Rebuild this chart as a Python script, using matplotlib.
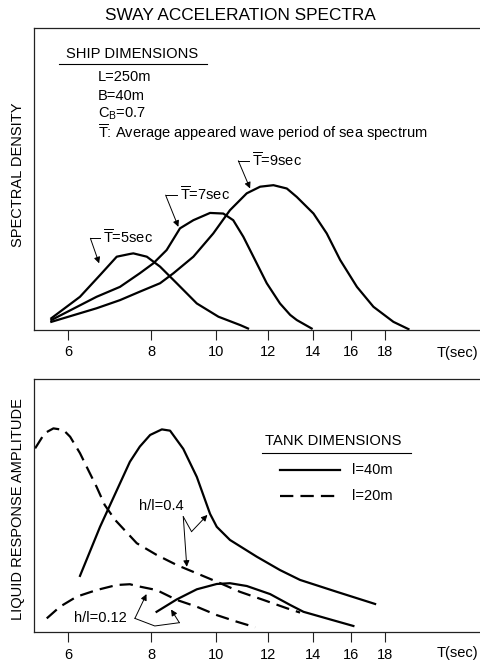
import matplotlib
matplotlib.use("Agg")
import matplotlib.pyplot as plt

plt.rcParams['font.family'] = ['Liberation Sans', 'DejaVu Sans']
plt.rcParams['mathtext.fontset'] = 'custom'
plt.rcParams['mathtext.rm'] = 'Liberation Sans'
plt.rcParams['mathtext.it'] = 'Liberation Sans'

# --- top panel: sway acceleration spectra (T in sec, arbitrary density) ---
t5_T = [5.66, 6.25, 6.70, 7.10, 7.43, 7.52, 7.88, 8.25, 8.74, 9.37, 10.10, 10.90, 11.19]
t5_y = [3.9, 11.0, 18.2, 24.3, 25.2, 25.4, 24.3, 21.0, 15.5, 8.8, 4.4, 1.6, 0.5]

t7_T = [5.66, 6.62, 7.18, 7.69, 8.06, 8.44, 8.84, 9.26, 9.81, 10.27, 10.63, 11.01,
        11.40, 11.94, 12.50, 12.95, 13.25, 13.95]
t7_y = [3.3, 11.0, 14.3, 18.8, 22.1, 26.5, 33.7, 36.4, 38.8, 38.6, 36.4, 30.9,
        24.3, 15.5, 8.8, 5.0, 3.3, 0.5]

t9_T = [5.66, 6.62, 7.18, 7.69, 8.25, 8.64, 9.26, 9.92, 10.51, 11.14, 11.67, 12.22,
        12.80, 13.25, 14.04, 14.70, 15.40, 16.32, 17.28, 18.52, 19.51]
t9_y = [2.7, 7.2, 9.9, 12.7, 15.5, 18.8, 24.3, 32.0, 39.7, 45.3, 47.5, 48.0,
        46.9, 44.1, 38.6, 32.0, 23.2, 14.3, 7.7, 2.7, 0.3]

# --- bottom panel: liquid response amplitude ---
l40_h04_T = [6.25, 6.70, 7.18, 7.43, 7.69, 7.97, 8.30, 8.54, 8.94, 9.37, 9.81, 10.04,
             10.51, 11.53, 12.50, 13.40, 15.22, 17.38]
l40_h04_y = [22.3, 41.7, 58.9, 67.4, 73.4, 78.0, 80.2, 79.7, 72.5, 61.4, 46.8, 41.7,
             36.5, 29.9, 24.6, 20.7, 16.0, 11.2]

l20_h04_T = [5.35, 5.53, 5.70, 5.90, 6.04, 6.25, 6.43, 6.62, 6.81, 7.06, 7.61, 8.15,
             8.74, 9.37, 10.04, 10.88, 11.80, 12.80, 13.40]
l20_h04_y = [72.7, 78.7, 80.6, 80.0, 77.3, 70.8, 64.2, 57.5, 50.3, 44.4, 35.2, 30.6,
             26.6, 23.3, 20.0, 16.0, 12.8, 9.5, 7.8]

l40_h012_T = [8.15, 8.74, 9.37, 10.04, 10.51, 11.14, 12.08, 12.95, 13.56, 14.87, 16.12]
l40_h012_y = [8.1, 13.0, 17.0, 19.1, 19.4, 18.3, 15.1, 10.8, 8.1, 5.1, 2.5]

l20_h012_T = [5.57, 5.83, 6.18, 6.62, 7.10, 7.43, 7.61, 8.15, 8.74, 9.37, 10.04, 10.76, 11.47]
l20_h012_y = [5.5, 10.1, 14.1, 16.7, 18.7, 19.0, 18.3, 16.7, 12.8, 10.1, 6.8, 4.2, 2.0]

tick_T = [6, 8, 10, 12, 14, 16, 18]

W, H = 480, 664
fig = plt.figure(figsize=(W / 100, H / 100), dpi=100)


def fx(px):
    return px / W


def fy(py):
    return 1 - py / H


def setup_axis(ax, left_T):
    ax.set_xscale('log')
    ax.set_xlim(left_T, 25.0)
    ax.set_ylim(0, 100)
    ax.minorticks_off()
    ax.set_xticks(tick_T)
    ax.set_xticklabels([str(t) for t in tick_T], fontsize=10.5)
    ax.set_yticks([])
    ax.tick_params(axis='x', direction='out', length=7, width=0.8, pad=4, color='#222')
    ax.spines['right'].set_visible(False)
    for s in ['left', 'top', 'bottom']:
        ax.spines[s].set_linewidth(0.9)
        ax.spines[s].set_color('#222')


lw = 1.6
dash = (6.0, 3.2)
arrow = dict(arrowstyle='-|>', color='black', lw=0.7, mutation_scale=9, shrinkA=0, shrinkB=0)
curve = dict(color='black', lw=lw, solid_joinstyle='round', dash_joinstyle='round')

# ---------------- top panel ----------------
ax1 = fig.add_axes([fx(34), fy(330), fx(480 - 34), (330 - 28.3) / H])
setup_axis(ax1, 5.33)
ax1.plot(t5_T, t5_y, **curve)
ax1.plot(t7_T, t7_y, **curve)
ax1.plot(t9_T, t9_y, **curve)

for txt, tx, elbow, tip, ty in [
        (r'$\overline{\mathrm{T}}$=5sec', 6.77, (6.48, 30.4), (6.68, 22.1), 30.5),
        (r'$\overline{\mathrm{T}}$=7sec', 8.84, (8.41, 44.7), (8.79, 34.2), 44.9),
        (r'$\overline{\mathrm{T}}$=9sec', 11.35, (10.82, 56.1), (11.27, 46.9), 56.1)]:
    ax1.text(tx, ty, txt, fontsize=10.5, ha='left', va='center')
    ax1.plot([tx * 0.99, elbow[0]], [elbow[1], elbow[1]], color='black', lw=0.7)
    ax1.annotate('', xy=tip, xytext=elbow, arrowprops=arrow)

fig.text(0.5, fy(15), 'SWAY ACCELERATION SPECTRA', fontsize=12.4, ha='center', va='center')
fig.text(fx(66), fy(54.3), 'SHIP DIMENSIONS', fontsize=10.6, ha='left', va='center')
fig.add_artist(plt.Line2D([fx(59.3), fx(206.7)], [fy(64.3), fy(64.3)], color='black', lw=0.8))
fig.text(fx(97.7), fy(77.3), 'L=250m', fontsize=10.5, ha='left', va='center')
fig.text(fx(97.7), fy(96.3), 'B=40m', fontsize=10.5, ha='left', va='center')
fig.text(fx(97.7), fy(114.3), r'C$_\mathrm{B}$=0.7', fontsize=10.5, ha='left', va='center')
fig.text(fx(97.7), fy(133), r'$\overline{\mathrm{T}}$: Average appeared wave period of sea spectrum',
         fontsize=10.5, ha='left', va='center')
fig.text(fx(18), fy(175), 'SPECTRAL DENSITY', fontsize=10.5, rotation=90, ha='center', va='center')
fig.text(fx(457), fy(353), 'T(sec)', fontsize=10.5, ha='center', va='center')

# ---------------- bottom panel ----------------
ax2 = fig.add_axes([fx(33.5), fy(632.3), fx(480 - 33.5), (632.3 - 379.3) / H])
setup_axis(ax2, 5.32)
ax2.plot(l40_h04_T, l40_h04_y, **curve)
ax2.plot(l40_h012_T, l40_h012_y, **curve)
ax2.plot(l20_h04_T, l20_h04_y, dashes=dash, **curve)
ax2.plot(l20_h012_T, l20_h012_y, dashes=dash, **curve)

# h/l=0.4 leaders
ax2.text(8.29, 50.0, 'h/l=0.4', fontsize=10.5, ha='center', va='center')
ax2.plot([8.94, 9.20], [45.7, 39.8], color='black', lw=0.7)
ax2.annotate('', xy=(9.72, 46.4), xytext=(9.20, 39.8), arrowprops=arrow)
ax2.annotate('', xy=(9.05, 25.9), xytext=(8.94, 45.7), arrowprops=arrow)

# h/l=0.12 leaders
ax2.text(6.70, 5.5, 'h/l=0.12', fontsize=10.5, ha='center', va='center')
ax2.annotate('', xy=(7.87, 15.1), xytext=(7.56, 5.5), arrowprops=arrow)
ax2.plot([7.56, 8.10, 8.82], [5.5, 2.5, 3.8], color='black', lw=0.7)
ax2.annotate('', xy=(8.57, 9.0), xytext=(8.82, 3.8), arrowprops=arrow)

# legend block
fig.text(fx(265), fy(440.7), 'TANK DIMENSIONS', fontsize=10.6, ha='left', va='center')
fig.add_artist(plt.Line2D([fx(262.3), fx(410.7)], [fy(452.7), fy(452.7)], color='black', lw=0.8))
fig.add_artist(plt.Line2D([fx(280), fx(340)], [fy(470), fy(470)], color='black', lw=lw))
fig.add_artist(plt.Line2D([fx(280), fx(340)], [fy(495.7), fy(495.7)], color='black', lw=lw,
                          dashes=dash))
fig.text(fx(351.7), fy(470), 'l=40m', fontsize=10.5, ha='left', va='center')
fig.text(fx(351.7), fy(495.7), 'l=20m', fontsize=10.5, ha='left', va='center')

fig.text(fx(18), fy(509), 'LIQUID RESPONSE AMPLITUDE', fontsize=10.5, rotation=90,
         ha='center', va='center')
fig.text(fx(457), fy(653.3), 'T(sec)', fontsize=10.5, ha='center', va='center')

fig.savefig('out.png', dpi=100)
